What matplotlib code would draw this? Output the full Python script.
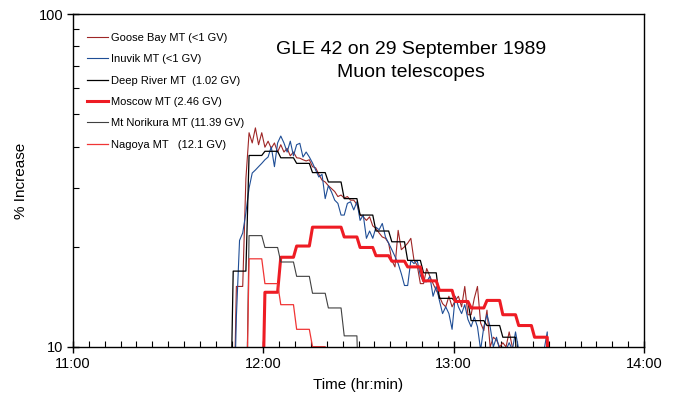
import numpy as np
import matplotlib.pyplot as plt
from matplotlib.ticker import MultipleLocator, NullFormatter

plt.rcParams['font.family'] = ['Liberation Sans', 'DejaVu Sans']

# times are minutes after 11:00 UT
# 1-minute data (values below 10 are off the plot)
goose_start = 50.5
goose_bay = [5, 15.2, 15.2, 15.2, 32.0, 44.0, 41.0, 45.5, 40.5, 44.0,
             39.8, 41.5, 39.5, 41.0, 38.5, 40.5, 38.5, 39.5, 37.5, 38.5,
             37.0, 36.9, 36.5, 36.2, 36.5, 34.8, 34.5, 33.0, 31.7, 31.3,
             30.5, 29.9, 29.3, 28.3, 28.6, 28.0, 28.3, 27.6, 27.6, 26.8,
             24.9, 24.6, 24.0, 24.6, 23.1, 22.7, 22.0, 21.4, 21.2, 20.5,
             18.2, 17.4, 22.4, 19.6, 20.0, 20.5, 21.2, 18.2, 17.6, 15.5,
             15.5, 17.2, 16.3, 15.5, 14.8, 14.2, 13.5, 13.2, 14.2, 13.2,
             13.8, 14.2, 13.2, 15.2, 12.5, 12.5, 14.0, 15.2, 11.8, 11.2,
             12.9, 10.0, 10.7, 10.5, 10.0, 10.3, 10.0, 11.1, 10.0, 9.0]

inuvik_start = 50.5
inuvik = [5, 12.3, 20.9, 22.0, 25.3, 30.0, 33.3, 34.0, 34.8, 35.6,
          36.5, 37.2, 39.9, 34.8, 41.0, 43.0, 41.0, 38.5, 41.5, 37.5,
          40.5, 40.9, 37.2, 38.5, 37.2, 35.7, 34.0, 32.4, 33.0, 27.9,
          30.5, 29.2, 27.6, 27.0, 24.9, 24.9, 27.0, 27.3, 25.8, 27.3,
          24.0, 24.9, 21.2, 22.3, 21.2, 22.9, 22.5, 23.5, 21.4, 20.5,
          19.6, 18.7, 17.8, 16.6, 15.3, 15.3, 18.2, 17.8, 18.2, 16.4,
          15.7, 15.7, 16.3, 14.2, 15.2, 13.8, 12.6, 13.2, 12.6, 11.3,
          14.2, 13.2, 12.6, 13.4, 12.1, 11.5, 12.3, 11.5, 9.8, 11.5,
          12.5, 11.5, 10.0, 10.7, 9.8, 10.0, 9.8, 10.3, 9.8, 11.1,
          9.8, 9.8, 9.8, 9.8, 9.8, 9.8, 9.8, 9.8, 9.8, 11.1, 5]

# 5-minute averages, time = start of interval
deep_river_t = [45.5, 50.5, 55.5, 60.5, 65.5, 70.5, 75.5, 80.5, 85.5, 90.5,
                95.5, 100.5, 105.5, 110.5, 115.5, 120.5, 125.5, 130.5, 135.5, 140.5]
deep_river = [5, 16.9, 37.6, 38.7, 37.0, 35.6, 33.4, 31.3, 27.9, 24.9,
              22.3, 20.7, 18.2, 16.7, 14.0, 13.7, 12.0, 11.6, 10.7, 5]

moscow_t = [55.5, 60.5, 65.5, 70.5, 75.5, 80.5, 85.5, 90.5, 95.5, 100.5,
            105.5, 110.5, 115.5, 120.5, 125.5, 130.5, 135.5, 140.5, 145.5, 150.5]
moscow = [5, 14.6, 18.6, 20.1, 22.9, 22.9, 21.4, 19.9, 18.8, 18.1,
          17.4, 15.8, 14.8, 13.7, 13.1, 13.8, 12.5, 11.6, 10.7, 5]

norikura_t = [50.5, 55.5, 60.5, 65.5, 70.5, 75.5, 80.5, 85.5, 90.5]
norikura = [5, 21.6, 19.9, 18.0, 16.3, 14.5, 13.1, 10.8, 5]

nagoya_t = [50.5, 55.5, 60.5, 65.5, 70.5, 75.5, 80.5]
nagoya = [5, 18.4, 15.5, 13.4, 11.3, 10.02, 5]

labels = ['Goose Bay MT (<1 GV)', 'Inuvik MT (<1 GV)', 'Deep River MT  (1.02 GV)',
          'Moscow MT (2.46 GV)', 'Mt Norikura MT (11.39 GV)', 'Nagoya MT   (12.1 GV)']


def hrs(start_min, n):
    return 11 + (start_min + np.arange(n)) / 60.0


def five_min(t, v):
    # each 5-min value is held for 4 minutes, then ramps to the next one
    xs, ys = [], []
    for i in range(len(t)):
        xs.append(t[i])
        ys.append(v[i])
        if i < len(t) - 1:
            xs.append(t[i] + 4)
            ys.append(v[i])
    return 11 + np.array(xs) / 60.0, ys


fig = plt.figure(figsize=(6.73, 4.01), dpi=100)
ax = fig.add_axes([73 / 673, 1 - 347 / 401, 571 / 673, 333 / 401])

ax.plot(hrs(goose_start, len(goose_bay)), goose_bay, color='#9e2626', lw=0.8, label=labels[0])
ax.plot(hrs(inuvik_start, len(inuvik)), inuvik, color='#1f4e96', lw=0.8, label=labels[1])
ax.plot(*five_min(deep_river_t, deep_river), color='black', lw=0.9, label=labels[2])
ax.plot(*five_min(moscow_t, moscow), color='#ee1c24', lw=2.2, label=labels[3])
ax.plot(*five_min(norikura_t, norikura), color='#404040', lw=0.8, label=labels[4])
ax.plot(*five_min(nagoya_t, nagoya), color='#f03535', lw=0.9, label=labels[5])

ax.set_yscale('log')
ax.set_ylim(10, 100)
ax.set_xlim(11, 14)
ax.set_xticks([11, 12, 13, 14], ['11:00', '12:00', '13:00', '14:00'])
ax.xaxis.set_minor_locator(MultipleLocator(5 / 60))
ax.set_yticks([10, 100], ['10', '100'])
ax.set_yticks(list(range(20, 100, 10)), minor=True)
ax.yaxis.set_minor_formatter(NullFormatter())

ax.tick_params(which='major', direction='inout', length=8, width=1, labelsize=10.5, pad=3)
ax.tick_params(which='minor', direction='in', length=4, width=0.8)
for s in ax.spines.values():
    s.set_linewidth(1)

ax.set_xlabel('Time (hr:min)', fontsize=11, labelpad=5)
ax.set_ylabel('% Increase', fontsize=11, labelpad=8)

ax.text(0.592, 0.86, 'GLE 42 on 29 September 1989\nMuon telescopes',
        transform=ax.transAxes, ha='center', va='center', fontsize=14, linespacing=1.45)

ax.legend(loc='upper left', bbox_to_anchor=(0.0245, 0.943), frameon=False,
          fontsize=8, handlelength=1.9, handletextpad=0.3, labelspacing=1.02,
          borderpad=0, borderaxespad=0)

fig.savefig('out.png', dpi=100)
